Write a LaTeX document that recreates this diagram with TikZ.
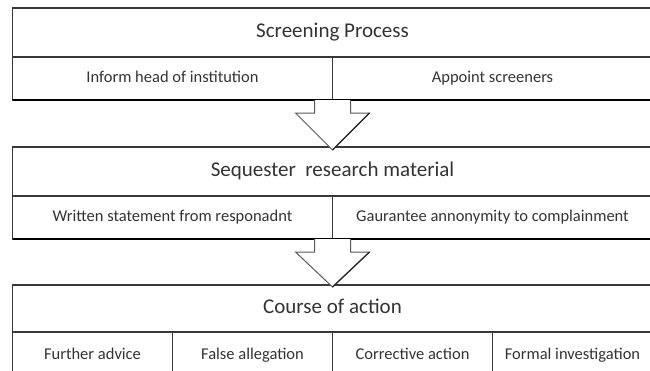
\documentclass[tikz,border=0pt]{standalone}
\usepackage{fontspec}
\setmainfont{Carlito}
\usetikzlibrary{calc}
\definecolor{linegray}{gray}{0.22}
\definecolor{txtgray}{gray}{0.2}
\definecolor{arrgray}{gray}{0.35}
\begin{document}
\begin{tikzpicture}[x=1pt,y=-1pt,
  cell/.style={draw=linegray, line width=1.1pt, rectangle, inner sep=0pt, outer sep=0pt, anchor=north west, text=txtgray},
  titlecell/.style={cell, minimum width=640pt, font=\fontsize{21}{24}\selectfont, text height=14pt, text depth=4pt},
  subcell/.style={cell, font=\fontsize{16.5}{19}\selectfont, text height=11pt, text depth=3pt},
  halfcell/.style={subcell, minimum width=320pt, minimum height=43pt},
  quartercell/.style={subcell, minimum width=160pt, minimum height=46pt},
  blockarr/.style={fill=white, draw=arrgray, line width=1pt},
  arrshade/.style={draw=black!85, line width=1.2pt}]
\useasboundingbox (0,0) rectangle (650,370);
% first block
\node[titlecell, minimum height=49pt] (t1) at (12.5,8) {Screening Process};
\node[halfcell] (s11) at (12.5,57) {Inform head of institution};
\node[halfcell] (s12) at (332.5,57) {Appoint screeners};
\draw[black, line width=2.4pt] (s11.south west) -- (s12.south east);
% second block
\node[titlecell, minimum height=49pt] (t2) at (12.5,147) {Sequester\ \ research material};
\node[halfcell] (s21) at (12.5,196) {Written statement from responadnt};
\node[halfcell] (s22) at (332.5,196) {Gaurantee annonymity to complainment};
\draw[black, line width=1.5pt] (s21.south west) -- (s22.south east);
% third block
\node[titlecell, minimum height=47pt, line width=1.6pt] (t3) at (12.5,285) {Course of action};
\node[quartercell] (s31) at (12.5,332) {Further advice};
\node[quartercell] (s32) at (172.5,332) {False allegation};
\node[quartercell] (s33) at (332.5,332) {Corrective action};
\node[quartercell] (s34) at (492.5,332) {Formal investigation};
% block arrows
\coordinate (a1top) at (s11.south east);
\coordinate (a1tip) at ($(t2.north)+(0,3)$);
\draw[blockarr] ($(a1top)+(-18,0)$) -- ++(0,13) -- ++(-19,0) -- (a1tip)
  -- ($(a1top)+(37,13)$) -- ++(-19,0) -- ++(0,-13);
\draw[arrshade] (a1tip) -- ($(a1top)+(37,13)$);
\coordinate (a2top) at (s21.south east);
\coordinate (a2tip) at ($(t3.north)+(0,2)$);
\draw[blockarr] ($(a2top)+(-18,0)$) -- ++(0,13) -- ++(-19,0) -- (a2tip)
  -- ($(a2top)+(37,13)$) -- ++(-19,0) -- ++(0,-13);
\draw[arrshade] (a2tip) -- ($(a2top)+(37,13)$);
\end{tikzpicture}
\end{document}
